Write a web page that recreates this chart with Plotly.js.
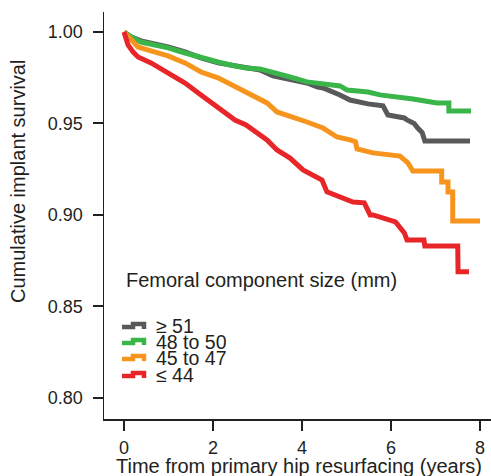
<!DOCTYPE html>
<html>
<head>
<meta charset="utf-8">
<script src="https://cdn.plot.ly/plotly-3.0.1.min.js"></script>
<style>html,body{margin:0;padding:0;background:#fff;}#chart{width:491px;height:476px;}</style>
</head>
<body>
<div id="chart"></div>
<script>
// Kaplan-Meier survival
var seriesNames = ["\u2265 51", "48 to 50", "45 to 47", "\u2264 44"];
var seriesColors = ["#58595b", "#39b54a", "#f7941d", "#e8262a"];

var tGray = [0, 0.157, 0.382, 0.607, 0.989, 1.371, 1.730, 2.112, 2.494, 2.742, 3.056, 3.348, 3.730, 4.112, 4.337, 4.472, 4.854, 5.079, 5.483, 5.820, 5.930, 6.300, 6.360, 6.520, 6.600, 6.700, 6.760, 7.775];
var sGray = [1.000, 0.9973, 0.9951, 0.9940, 0.9918, 0.9891, 0.9858, 0.9831, 0.9814, 0.9803, 0.9792, 0.9760, 0.9743, 0.9721, 0.9700, 0.9694, 0.9656, 0.9628, 0.9607, 0.9596, 0.9546, 0.9530, 0.9519, 0.9500, 0.9475, 0.9450, 0.9404, 0.9404];

var tGreen = [0, 0.157, 0.382, 0.607, 0.989, 1.371, 1.730, 2.112, 2.494, 2.742, 3.056, 3.348, 3.730, 4.112, 4.472, 4.854, 5.011, 5.483, 5.753, 6.202, 6.494, 6.764, 7.034, 7.300, 7.300, 7.798];
var sGreen = [1.000, 0.9973, 0.9945, 0.9934, 0.9913, 0.9885, 0.9858, 0.9836, 0.9814, 0.9803, 0.9798, 0.9776, 0.9754, 0.9727, 0.9716, 0.9705, 0.9683, 0.9672, 0.9656, 0.9645, 0.9634, 0.9623, 0.9612, 0.9612, 0.9568, 0.9568];

var tOrange = [0, 0.090, 0.157, 0.315, 0.607, 0.989, 1.371, 1.730, 2.112, 2.494, 2.742, 2.899, 3.056, 3.213, 3.438, 3.798, 4.112, 4.472, 4.787, 5.079, 5.200, 5.236, 5.596, 6.202, 6.380, 6.490, 7.139, 7.139, 7.281, 7.281, 7.387, 7.387, 8.000];
var sOrange = [1.000, 0.9978, 0.9956, 0.9918, 0.9896, 0.9869, 0.9831, 0.9781, 0.9749, 0.9700, 0.9667, 0.9645, 0.9628, 0.9612, 0.9563, 0.9536, 0.9508, 0.9475, 0.9426, 0.9410, 0.9400, 0.9361, 0.9339, 0.9322, 0.9284, 0.9240, 0.9240, 0.9180, 0.9180, 0.9126, 0.9126, 0.8967, 0.8967];

var tRed = [0, 0.045, 0.090, 0.202, 0.315, 0.607, 0.989, 1.371, 1.730, 2.112, 2.494, 2.742, 2.899, 3.213, 3.438, 3.730, 4.022, 4.337, 4.449, 4.560, 4.854, 5.146, 5.400, 5.530, 5.596, 6.100, 6.300, 6.360, 6.740, 6.760, 7.500, 7.506, 7.753];
var sRed = [1.000, 0.9967, 0.9929, 0.9891, 0.9863, 0.9831, 0.9776, 0.9721, 0.9656, 0.9585, 0.9519, 0.9492, 0.9465, 0.9410, 0.9355, 0.9311, 0.9246, 0.9202, 0.9191, 0.9126, 0.9098, 0.9071, 0.9066, 0.9000, 0.9000, 0.8962, 0.8902, 0.8863, 0.8863, 0.8831, 0.8831, 0.8689, 0.8689];

var xTicks = [0, 2, 4, 6, 8];
var yTicks = [0.80, 0.85, 0.90, 0.95, 1.00];
var yTickText = ["0.80", "0.85", "0.90", "0.95", "1.00"];
var legendTitle = "Femoral component size (mm)";
var xTitle = "Time from primary hip resurfacing (years)";
var yTitle = "Cumulative implant survival";

var W = 491, H = 476;
var M = {l: 104, r: 0, t: 12, b: 57};
var PW = W - M.l - M.r, PH = H - M.t - M.b;
function px(x) { return (x - M.l) / PW; }
function py(y) { return (H - M.b - y) / PH; }

var FONT = "Liberation Sans, Arial, Helvetica, sans-serif";
var INK = "#231f20";

var ts = [tGray, tGreen, tOrange, tRed];
var ss = [sGray, sGreen, sOrange, sRed];
var traces = ts.map(function (t, i) {
  return {
    x: t, y: ss[i], type: "scatter", mode: "lines",
    name: seriesNames[i],
    line: {color: seriesColors[i], width: 5, shape: "linear"},
    hoverinfo: "skip", showlegend: false
  };
});

var rowsY = [326, 342, 358, 375];
var shapes = [];
var annotations = [
  {text: legendTitle, xref: "paper", yref: "paper",
   x: px(124), y: py(280), xanchor: "left", yanchor: "middle",
   showarrow: false, font: {family: FONT, size: 20, color: INK}},
  {text: xTitle, xref: "paper", yref: "paper",
   x: px(299), y: py(466), xanchor: "center", yanchor: "middle",
   showarrow: false, font: {family: FONT, size: 20, color: INK}},
  {text: yTitle, xref: "paper", yref: "paper", textangle: -90,
   x: px(18), y: py(182), xanchor: "center", yanchor: "middle",
   showarrow: false, font: {family: FONT, size: 20, color: INK}}
];
rowsY.forEach(function (yc, i) {
  var d = "M" + px(122) + "," + py(yc + 1) +
          " L" + px(133) + "," + py(yc + 1) +
          " L" + px(133) + "," + py(yc - 2) +
          " L" + px(144) + "," + py(yc - 2) +
          " L" + px(144) + "," + py(yc + 3);
  shapes.push({type: "path", xref: "paper", yref: "paper", path: d,
    line: {color: seriesColors[i], width: 4.5}});
  annotations.push({
    text: seriesNames[i], xref: "paper", yref: "paper",
    x: px(154), y: py(yc), xanchor: "left", yanchor: "middle",
    showarrow: false, font: {family: FONT, size: 19.5, color: INK}
  });
});

var layout = {
  width: W, height: H,
  margin: M,
  paper_bgcolor: "#fff", plot_bgcolor: "#fff",
  font: {family: FONT, color: INK},
  showlegend: false,
  xaxis: {
    range: [-0.45, 8.247], tickvals: xTicks, ticktext: xTicks.map(String),
    showgrid: false, zeroline: false, showline: true, linecolor: INK, linewidth: 1.5,
    ticks: "outside", ticklen: 10, tickwidth: 2, tickcolor: INK,
    tickfont: {family: FONT, size: 18, color: INK},
    ticklabelstandoff: 2
  },
  yaxis: {
    range: [0.7885, 1.0109], tickvals: yTicks, ticktext: yTickText,
    showgrid: false, zeroline: false, showline: true, linecolor: INK, linewidth: 1.5,
    ticks: "outside", ticklen: 10, tickwidth: 2, tickcolor: INK,
    tickfont: {family: FONT, size: 18, color: INK},
    ticklabelstandoff: 6
  },
  shapes: shapes,
  annotations: annotations
};

Plotly.newPlot("chart", traces, layout, {staticPlot: true, displayModeBar: false});
</script>
</body>
</html>
